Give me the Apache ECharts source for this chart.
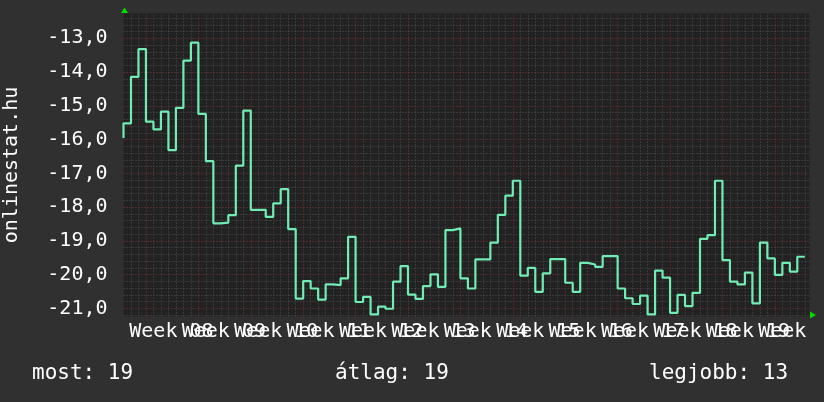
<!DOCTYPE html>
<html>
<head>
<meta charset="utf-8">
<script src="https://cdn.jsdelivr.net/npm/echarts@6/dist/echarts.min.js"></script>
<style>
html,body{margin:0;padding:0;background:#303030;}
#chart{width:824px;height:402px;}
</style>
</head>
<body>
<div id="chart"></div>
<script>
// value shown just before the first full day (left edge)
const startValue = -15.95;
// daily values (one per day, 91 days)
const ranks = [
  -15.52, -14.14, -13.32, -15.47, -15.70, -15.17, -16.31, -15.06, -13.66, -13.13,
  -15.24, -16.64, -18.48, -18.46, -18.24, -16.77, -15.14, -18.08, -18.08, -18.29,
  -17.89, -17.47, -18.65, -20.71, -20.19, -20.41, -20.74, -20.29, -20.31, -20.11,
  -18.88, -20.81, -20.66, -21.18, -20.95, -21.01, -20.21, -19.75, -20.59, -20.72,
  -20.34, -19.99, -20.36, -18.68, -18.63, -20.11, -20.41, -19.55, -19.55, -19.05,
  -18.23, -17.66, -17.22, -20.03, -19.80, -20.51, -19.96, -19.54, -19.54, -20.24,
  -20.51, -19.65, -19.70, -19.77, -19.45, -19.45, -20.41, -20.70, -20.87, -20.62,
  -21.18, -19.88, -20.09, -21.13, -20.60, -20.93, -20.54, -18.94, -18.83, -17.22,
  -19.57, -20.21, -20.29, -19.94, -20.85, -19.05, -19.52, -20.01, -19.65, -19.91,
  -19.47
];
const weekLabels = ['Week 08','Week 09','Week 10','Week 11','Week 12','Week 13',
  'Week 14','Week 15','Week 16','Week 17','Week 18','Week 19','Week   '];
const yTickValues = [-21, -20, -19, -18, -17, -16, -15, -14, -13];
const summaryTexts = ['most: 19', 'átlag: 19', 'legjobb: 13'];
const axisTitle = 'onlinestat.hu';

const X_MIN = 0, X_MAX = 91.6, Y_MIN = -21.24, Y_MAX = -12.26;
const FONT = '"DejaVu Sans Mono", monospace';

const weekLabelPos = weekLabels.map((_, k) => 6.4 + 7 * k);
const majorX = weekLabels.map((_, k) => 3 + 7 * k).filter(v => v < X_MAX);

const minorStyle = {color: '#4e4e4e', width: 1, type: [1, 2]};
const majorStyle = {color: '#7a3232', width: 1, type: [1, 2]};
const gridLines = [];
for (let d = 1; d < X_MAX; d++) {
  if (!majorX.includes(d)) gridLines.push({xAxis: d, lineStyle: minorStyle});
}
for (let i = 0; ; i++) {
  const v = Math.round((-21.2 + i * 0.2) * 10) / 10;
  if (v > Y_MAX) break;
  if (Math.abs(v - Math.round(v)) > 1e-6) gridLines.push({yAxis: v, lineStyle: minorStyle});
}
majorX.forEach(v => gridLines.push({xAxis: v, lineStyle: majorStyle}));
yTickValues.forEach(v => gridLines.push({yAxis: v, lineStyle: majorStyle}));

const seriesData = [[0, startValue]].concat(ranks.map((v, i) => [i + 1, v]));

const labelFor = v => weekLabels[Math.round((v - 6.4) / 7)] || '';
function weekAxis(parity) {
  return {
    type: 'value', min: X_MIN, max: X_MAX, position: 'bottom', offset: 0,
    splitLine: {show: false}, axisTick: {show: false}, axisLine: {show: false},
    axisLabel: {
      customValues: weekLabelPos.filter((_, k) => k % 2 === parity),
      hideOverlap: false,
      color: '#ffffff', fontFamily: FONT, fontSize: 20, lineHeight: 20, margin: 5,
      formatter: labelFor
    }
  };
}

const chart = echarts.init(document.getElementById('chart'), null, {renderer: 'canvas'});
chart.setOption({
  animation: false,
  backgroundColor: '#303030',
  grid: {left: 123.5, right: 14.7, top: 13.3, bottom: 85.5, show: true,
         containLabel: false, outerBoundsMode: 'none',
         backgroundColor: '#222222', borderWidth: 0},
  xAxis: [weekAxis(0), weekAxis(1)],
  yAxis: {
    type: 'value', min: Y_MIN, max: Y_MAX,
    splitLine: {show: false}, axisTick: {show: false}, axisLine: {show: false},
    axisLabel: {
      customValues: yTickValues,
      color: '#ffffff', fontFamily: FONT, fontSize: 20, margin: 16,
      formatter: v => v.toFixed(1).replace('.', ',')
    }
  },
  title: summaryTexts.map((t, i) => ({
    text: t,
    left: [32, 335, 649][i], top: 363,
    textStyle: {color: '#ffffff', fontFamily: FONT, fontSize: 21, fontWeight: 'normal', lineHeight: 21},
    padding: 0
  })),
  graphic: [
    {type: 'text', x: 11.3, y: 165, rotation: Math.PI / 2,
     style: {text: axisTitle, fill: '#ffffff', font: '20px ' + FONT, align: 'center', verticalAlign: 'middle'}},
    {type: 'polygon', shape: {points: [[121, 13], [128, 13], [124.5, 7.5]]}, style: {fill: '#00dd00'}},
    {type: 'polygon', shape: {points: [[810, 311.5], [810, 318.5], [816, 315]]}, style: {fill: '#00dd00'}}
  ],
  series: [
    {
      type: 'line', data: [], z: 1, silent: true,
      markLine: {silent: true, z: 1, symbol: ['none', 'none'], animation: false,
                 label: {show: false}, data: gridLines}
    },
    {
      type: 'line', step: 'start', data: seriesData, showSymbol: false, z: 10,
      lineStyle: {color: '#70ecb4', width: 2.2}
    }
  ]
});
</script>
</body>
</html>
